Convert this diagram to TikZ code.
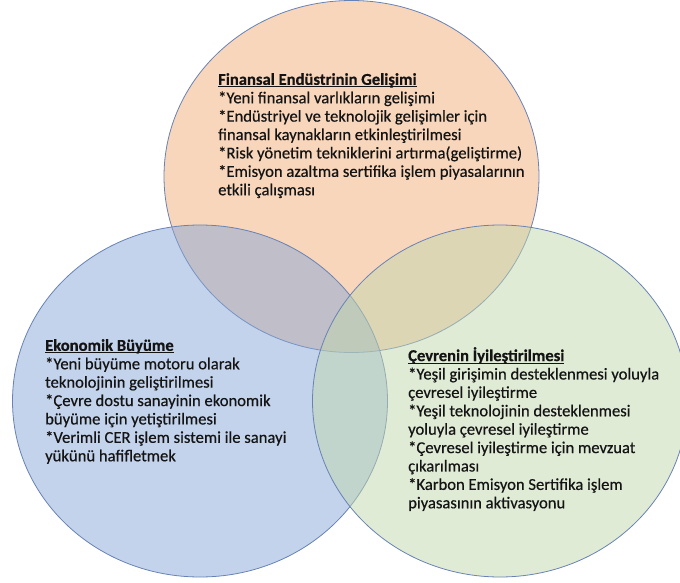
\documentclass[tikz,border=0pt]{standalone}
\usepackage{fontspec}
\setmainfont{Carlito}[FakeBold=0.5, BoldFeatures={FakeBold=0.5}]
\usetikzlibrary{shapes.geometric}

\definecolor{finfill}{RGB}{241,173,121}
\definecolor{ekofill}{RGB}{135,167,215}
\definecolor{cevfill}{RGB}{193,215,173}
\definecolor{rim}{RGB}{104,130,182}
\definecolor{ink}{RGB}{20,20,20}

\tikzset{
  setcircle/.style={ellipse, inner sep=0pt, minimum width=375pt, minimum height=352pt,
    draw=rim, line width=0.8pt, fill opacity=0.5},
  block/.style={anchor=north west, inner sep=0pt, align=left, text=ink,
    font={\fontsize{16.6}{18.4}\selectfont}},
}
% bold heading with a rule drawn under it
\newcommand{\headline}[1]{\setbox0=\hbox{\bfseries #1}\rlap{\rule[-2.6pt]{\wd0}{1pt}}\box0}

\begin{document}
\begin{tikzpicture}[x=1pt, y=-1pt]
  \useasboundingbox (0,0) rectangle (680,583);

  % the three overlapping sets
  \node[setcircle, fill=finfill] (fin) at (351.5,176.5) {};
  \node[setcircle, fill=ekofill] (eko) at (200,401) {};
  \node[setcircle, fill=cevfill] (cev) at (500,401) {};

  % set descriptions
  \node[block] (fintext) at (218,73) {\headline{Finansal Endüstrinin Gelişimi}\\
    *Yeni finansal varlıkların gelişimi\\
    *Endüstriyel ve teknolojik gelişimler için\\
    finansal kaynakların etkinleştirilmesi\\
    *Risk yönetim tekniklerini artırma(geliştirme)\\
    *Emisyon azaltma sertifika işlem piyasalarının\\
    etkili çalışması};

  \node[block] (ekotext) at (45,339) {\headline{Ekonomik Büyüme}\\
    *Yeni büyüme motoru olarak\\
    teknolojinin geliştirilmesi\\
    *Çevre dostu sanayinin ekonomik\\
    büyüme için yetiştirilmesi\\
    *Verimli CER işlem sistemi ile sanayi\\
    yükünü hafifletmek};

  \node[block] (cevtext) at (408,347) {\headline{Çevrenin İyileştirilmesi}\\
    *Yeşil girişimin desteklenmesi yoluyla\\
    çevresel iyileştirme\\
    *Yeşil teknolojinin desteklenmesi\\
    yoluyla çevresel iyileştirme\\
    *Çevresel iyileştirme için mevzuat\\
    çıkarılması\\
    *Karbon Emisyon Sertifika işlem\\
    piyasasının aktivasyonu};
\end{tikzpicture}
\end{document}
